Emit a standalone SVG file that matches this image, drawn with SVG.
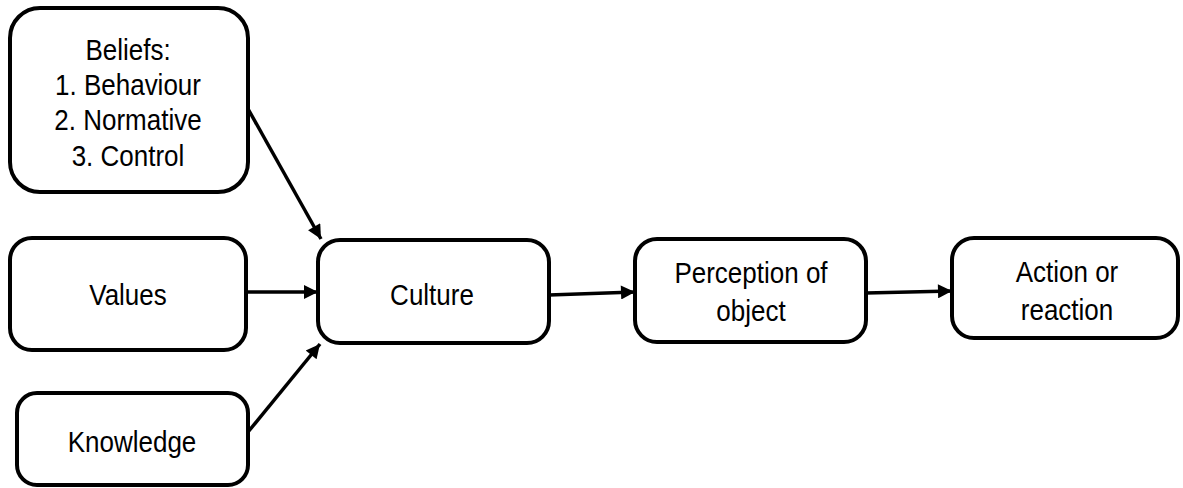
<svg xmlns="http://www.w3.org/2000/svg" width="1183" height="488" viewBox="0 0 1183 488">
  <style>
    .box { fill: #ffffff; stroke: #000000; stroke-width: 4; }
    .lbl { font-family: "Liberation Sans", Arial, sans-serif; font-size: 26px; fill: #000000; text-anchor: middle; }
    .edge { fill: none; stroke: #000000; stroke-width: 3.5; }
  </style>
  <defs>
    <marker id="arrow" viewBox="0 0 10 10" refX="10" refY="5" markerWidth="4.6" markerHeight="4" markerUnits="strokeWidth" orient="auto">
      <path d="M0,0 L10,5 L0,10 Z" fill="#000000"/>
    </marker>
  </defs>
  <rect width="1183" height="488" fill="#ffffff"/>

  <g id="connectors">
    <line class="edge" x1="247" y1="107" x2="321" y2="239" marker-end="url(#arrow)"/>
    <line class="edge" x1="246" y1="292" x2="318" y2="292" marker-end="url(#arrow)"/>
    <line class="edge" x1="248" y1="432" x2="320" y2="344" marker-end="url(#arrow)"/>
    <line class="edge" x1="549" y1="295" x2="635" y2="292" marker-end="url(#arrow)"/>
    <line class="edge" x1="866" y1="293" x2="952" y2="291" marker-end="url(#arrow)"/>
  </g>

  <g id="beliefs">
    <rect class="box" x="10" y="8" width="238" height="184" rx="30"/>
    <text class="lbl" transform="translate(128,60) scale(1,1.12)">Beliefs:</text>
    <text class="lbl" transform="translate(128,95) scale(1,1.12)">1. Behaviour</text>
    <text class="lbl" transform="translate(128,130) scale(1,1.12)">2. Normative</text>
    <text class="lbl" transform="translate(128,166) scale(1,1.12)">3. Control</text>
  </g>

  <g id="values">
    <rect class="box" x="10" y="238" width="236" height="112" rx="22"/>
    <text class="lbl" transform="translate(128,305) scale(1,1.12)">Values</text>
  </g>

  <g id="knowledge">
    <rect class="box" x="17" y="393" width="231" height="92" rx="20"/>
    <text class="lbl" transform="translate(132,452) scale(1,1.12)">Knowledge</text>
  </g>

  <g id="culture">
    <rect class="box" x="318" y="240" width="231" height="103" rx="22"/>
    <text class="lbl" transform="translate(432,305) scale(1,1.12)">Culture</text>
  </g>

  <g id="perception">
    <rect class="box" x="635" y="239" width="231" height="103" rx="22"/>
    <text class="lbl" transform="translate(751,283) scale(1,1.12)">Perception of</text>
    <text class="lbl" transform="translate(751,321) scale(1,1.12)">object</text>
  </g>

  <g id="action">
    <rect class="box" x="952" y="238" width="226" height="100" rx="22"/>
    <text class="lbl" transform="translate(1067,282) scale(1,1.12)">Action or</text>
    <text class="lbl" transform="translate(1067,320) scale(1,1.12)">reaction</text>
  </g>
</svg>
